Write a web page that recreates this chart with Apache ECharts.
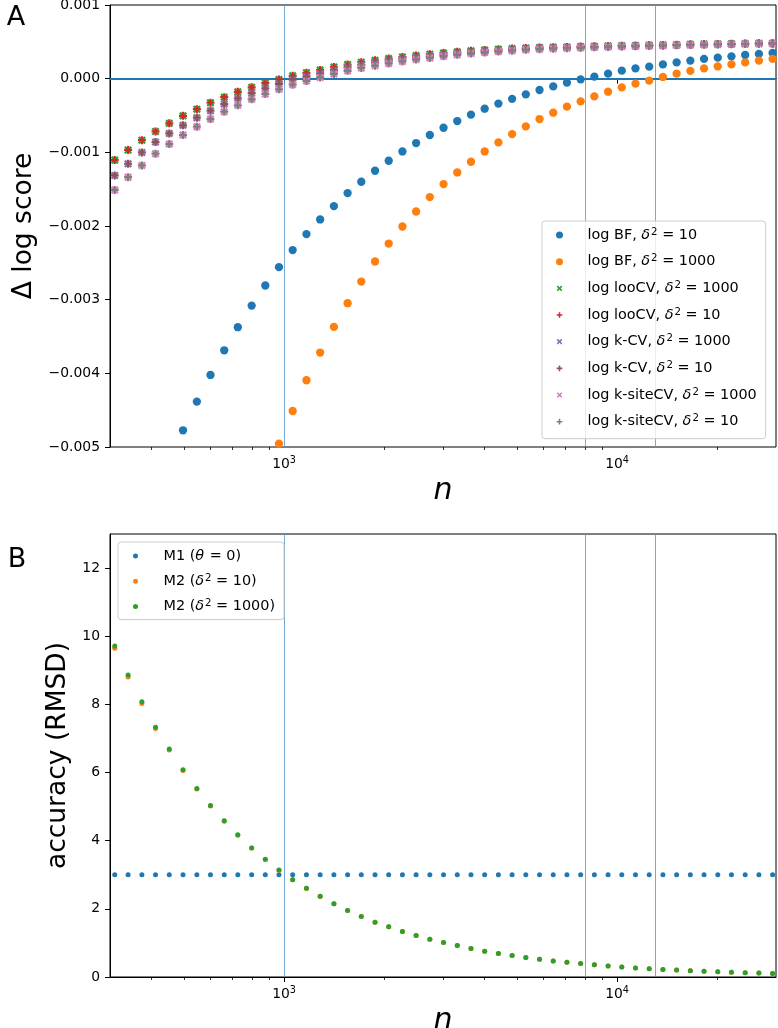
<!DOCTYPE html>
<html><head><meta charset="utf-8">
<script src="https://cdn.jsdelivr.net/npm/echarts@6/dist/echarts.min.js"></script>
<style>html,body{margin:0;padding:0;background:#fff}#c{width:778px;height:1028px}</style>
</head><body><div id="c"></div>
<script>
const F = 'DejaVu Sans';

// sample sizes (x values, shared by both panels)
const nValues = [310, 340, 374, 411, 452, 497, 547, 601, 661, 726, 799, 878, 965, 1061, 1167, 1283, 1411, 1551, 1705, 1875,
  2061, 2266, 2491, 2739, 3011, 3311, 3640, 4002, 4400, 4838, 5319, 5848, 6429, 7068, 7771, 8544, 9394, 10328, 11355, 12484,
  13726, 15090, 16591, 18241, 20055, 22049, 24242, 26652, 29303];

const vLines = [1000, 8000, 13000];
const xMajorTicks = [1000, 10000];
const xMinorTicks = [400, 500, 600, 700, 800, 900, 2000, 3000, 4000, 5000, 6000, 7000, 8000, 9000, 20000];
const bottomYTicks = [0, 2, 4, 6, 8, 10, 12];

// Panel A
const bf10 = [null, null, null, null, null, -0.004773, -0.004384, -0.004022, -0.003687, -0.003374, -0.003080, -0.002808, -0.002559,
  -0.002327, -0.002110, -0.001911, -0.001730, -0.001553, -0.001399, -0.001250, -0.001114, -0.000988, -0.000874, -0.000765,
  -0.000666, -0.000575, -0.000489, -0.000408, -0.000338, -0.000274, -0.000213, -0.000154, -0.000105, -0.000054, -0.000009,
  0.000027, 0.000068, 0.000109, 0.000140, 0.000163, 0.000194, 0.000221, 0.000245, 0.000268, 0.000285, 0.000303, 0.000322,
  0.000336, 0.000349];
const bf1000 = [null, null, null, null, null, null, null, null, null, null, null, null, -0.004955, -0.004511, -0.004094,
  -0.003718, -0.003370, -0.003048, -0.002754, -0.002482, -0.002238, -0.002007, -0.001803, -0.001608, -0.001431, -0.001273,
  -0.001128, -0.000988, -0.000865, -0.000752, -0.000648, -0.000548, -0.000462, -0.000380, -0.000308, -0.000240, -0.000177,
  -0.000118, -0.000068, -0.000027, 0.000023, 0.000068, 0.000105, 0.000140, 0.000167, 0.000194, 0.000221, 0.000245, 0.000268];
const looCV1000 = [-0.001105, -0.000968, -0.000835, -0.000716, -0.000606, -0.000505, -0.000414, -0.000326, -0.000251, -0.000179,
  -0.000118, -0.000061, -0.000011, 0.000039, 0.000080, 0.000116, 0.000157, 0.000192, 0.000223, 0.000249, 0.000273, 0.000294,
  0.000314, 0.000332, 0.000350, 0.000365, 0.000378, 0.000388, 0.000399, 0.000408, 0.000416, 0.000423, 0.000427, 0.000431,
  0.000435, 0.000440, 0.000444, 0.000448, 0.000451, 0.000455, 0.000458, 0.000462, 0.000466, 0.000469, 0.000471, 0.000474,
  0.000477, 0.000480, 0.000482];
const looCV10 = [-0.001105, -0.000968, -0.000835, -0.000716, -0.000606, -0.000505, -0.000414, -0.000326, -0.000251, -0.000179,
  -0.000118, -0.000061, -0.000011, 0.000039, 0.000080, 0.000116, 0.000157, 0.000192, 0.000223, 0.000249, 0.000273, 0.000294,
  0.000314, 0.000332, 0.000350, 0.000365, 0.000378, 0.000388, 0.000399, 0.000408, 0.000416, 0.000423, 0.000427, 0.000431,
  0.000435, 0.000440, 0.000444, 0.000448, 0.000451, 0.000455, 0.000458, 0.000462, 0.000466, 0.000469, 0.000471, 0.000474,
  0.000477, 0.000480, 0.000482];
const kCV1000 = [-0.001313, -0.001155, -0.001001, -0.000861, -0.000743, -0.000634, -0.000530, -0.000435, -0.000344, -0.000267,
  -0.000195, -0.000131, -0.000072, -0.000014, 0.000025, 0.000066, 0.000111, 0.000150, 0.000184, 0.000213, 0.000240, 0.000264,
  0.000287, 0.000307, 0.000327, 0.000344, 0.000359, 0.000371, 0.000384, 0.000394, 0.000404, 0.000412, 0.000417, 0.000422,
  0.000427, 0.000432, 0.000437, 0.000441, 0.000445, 0.000449, 0.000453, 0.000457, 0.000461, 0.000464, 0.000467, 0.000470,
  0.000473, 0.000476, 0.000478];
const kCV10 = [-0.001313, -0.001155, -0.001001, -0.000861, -0.000743, -0.000634, -0.000530, -0.000435, -0.000344, -0.000267,
  -0.000195, -0.000131, -0.000072, -0.000014, 0.000025, 0.000066, 0.000111, 0.000150, 0.000184, 0.000213, 0.000240, 0.000264,
  0.000287, 0.000307, 0.000327, 0.000344, 0.000359, 0.000371, 0.000384, 0.000394, 0.000404, 0.000412, 0.000417, 0.000422,
  0.000427, 0.000432, 0.000437, 0.000441, 0.000445, 0.000449, 0.000453, 0.000457, 0.000461, 0.000464, 0.000467, 0.000470,
  0.000473, 0.000476, 0.000478];
const kSiteCV1000 = [-0.001510, -0.001338, -0.001178, -0.001019, -0.000888, -0.000765, -0.000652, -0.000548, -0.000448, -0.000362,
  -0.000281, -0.000208, -0.000145, -0.000082, -0.000030, 0.000016, 0.000065, 0.000107, 0.000145, 0.000177, 0.000207, 0.000234,
  0.000259, 0.000282, 0.000304, 0.000323, 0.000340, 0.000354, 0.000368, 0.000380, 0.000391, 0.000401, 0.000407, 0.000413,
  0.000419, 0.000425, 0.000430, 0.000435, 0.000439, 0.000444, 0.000448, 0.000452, 0.000457, 0.000460, 0.000463, 0.000466,
  0.000470, 0.000473, 0.000475];
const kSiteCV10 = [-0.001510, -0.001338, -0.001178, -0.001019, -0.000888, -0.000765, -0.000652, -0.000548, -0.000448, -0.000362,
  -0.000281, -0.000208, -0.000145, -0.000082, -0.000030, 0.000016, 0.000065, 0.000107, 0.000145, 0.000177, 0.000207, 0.000234,
  0.000259, 0.000282, 0.000304, 0.000323, 0.000340, 0.000354, 0.000368, 0.000380, 0.000391, 0.000401, 0.000407, 0.000413,
  0.000419, 0.000425, 0.000430, 0.000435, 0.000439, 0.000444, 0.000448, 0.000452, 0.000457, 0.000460, 0.000463, 0.000466,
  0.000470, 0.000473, 0.000475];

// Panel B
const m1 = [3, 3, 3, 3, 3, 3, 3, 3, 3, 3, 3, 3, 3, 3, 3, 3, 3, 3, 3, 3, 3, 3, 3, 3, 3, 3, 3, 3, 3, 3, 3, 3, 3, 3, 3, 3, 3, 3, 3, 3,
  3, 3, 3, 3, 3, 3, 3, 3, 3];
const m2d10 = [9.647, 8.802, 8.028, 7.292, 6.664, 6.062, 5.516, 5.020, 4.572, 4.162, 3.782, 3.449, 3.136, 2.852, 2.599, 2.363,
  2.147, 1.952, 1.778, 1.610, 1.472, 1.338, 1.218, 1.110, 1.012, 0.924, 0.836, 0.757, 0.689, 0.630, 0.571, 0.521, 0.471, 0.433,
  0.394, 0.356, 0.324, 0.294, 0.267, 0.245, 0.222, 0.202, 0.183, 0.167, 0.152, 0.139, 0.127, 0.116, 0.106];
const m2d1000 = [9.714, 8.861, 8.078, 7.330, 6.694, 6.085, 5.534, 5.034, 4.583, 4.171, 3.789, 3.455, 3.141, 2.856, 2.602, 2.366,
  2.149, 1.954, 1.778, 1.610, 1.472, 1.338, 1.218, 1.110, 1.012, 0.924, 0.836, 0.757, 0.689, 0.630, 0.571, 0.521, 0.471, 0.433,
  0.394, 0.356, 0.324, 0.294, 0.267, 0.245, 0.222, 0.202, 0.183, 0.167, 0.152, 0.139, 0.127, 0.116, 0.106];

const C = ['#1f77b4', '#ff7f0e', '#2ca02c', '#d62728', '#9467bd', '#8c564b', '#e377c2', '#7f7f7f'];
const X_SHAPE = 'M0,0.2L0.2,0L0.5,0.3L0.8,0L1,0.2L0.7,0.5L1,0.8L0.8,1L0.5,0.7L0.2,1L0,0.8L0.3,0.5Z';
const PLUS_SHAPE = 'M0.36,0L0.64,0L0.64,0.36L1,0.36L1,0.64L0.64,0.64L0.64,1L0.36,1L0.36,0.64L0,0.64L0,0.36L0.36,0.36Z';
const X_PATH = 'path://' + X_SHAPE;
const PLUS_PATH = 'path://' + PLUS_SHAPE;
const X_ICON = 'path://M-0.12,-0.12M1.12,1.12' + X_SHAPE;
const PLUS_ICON = 'path://M-0.12,-0.12M1.12,1.12' + PLUS_SHAPE;

function pairs(arr) {
  const out = [];
  for (let i = 0; i < nValues.length; i++) if (arr[i] !== null) out.push([nValues[i], arr[i]]);
  return out;
}

const topNames = [
  ['log BF, d10', 'log BF, {i|δ}{s|2} = 10'],
  ['log BF, d1000', 'log BF, {i|δ}{s|2} = 1000'],
  ['log looCV, d1000', 'log looCV, {i|δ}{s|2} = 1000'],
  ['log looCV, d10', 'log looCV, {i|δ}{s|2} = 10'],
  ['log k-CV, d1000', 'log k-CV, {i|δ}{s|2} = 1000'],
  ['log k-CV, d10', 'log k-CV, {i|δ}{s|2} = 10'],
  ['log k-siteCV, d1000', 'log k-siteCV, {i|δ}{s|2} = 1000'],
  ['log k-siteCV, d10', 'log k-siteCV, {i|δ}{s|2} = 10']
];
const botNames = [
  ['M1 theta0', 'M1 ({i|θ} = 0)'],
  ['M2 d10', 'M2 ({i|δ}{s|2} = 10)'],
  ['M2 d1000', 'M2 ({i|δ}{s|2} = 1000)']
];
const richMap = {};
topNames.concat(botNames).forEach(p => richMap[p[0]] = p[1]);

const LF = 14.4;
const legendRich = {
  i: {fontFamily: F, fontStyle: 'italic', fontSize: LF, lineHeight: 16, color: '#000', padding: [0, 1, 0, 0]},
  s: {fontFamily: F, fontSize: 10.2, lineHeight: 11, verticalAlign: 'top', color: '#000'}
};
const tickRich = {
  b: {fontFamily: F, fontSize: 13.9, lineHeight: 18, color: '#000'},
  s: {fontFamily: F, fontSize: 9.7, lineHeight: 11, verticalAlign: 'top', color: '#000'}
};

function xMain(grid) {
  return {
    type: 'log', logBase: 10, gridIndex: grid, min: 300, max: 30000, position: 'bottom',
    name: 'n', nameLocation: 'middle', nameGap: 29,
    nameTextStyle: {fontFamily: F, fontStyle: 'italic', fontSize: 30, color: '#000'},
    axisLine: {show: true, lineStyle: {color: '#000', width: 1}},
    axisTick: {show: true, length: 5, customValues: xMajorTicks, lineStyle: {color: '#000', width: 1}},
    axisLabel: {
      show: true, margin: 8, customValues: xMajorTicks,
      formatter: v => '{b|10}{s|' + Math.round(Math.log10(v)) + '}',
      rich: tickRich
    },
    splitLine: {show: false}, minorTick: {show: false}, minorSplitLine: {show: false}
  };
}
function xMinor(grid) {
  return {
    type: 'log', logBase: 10, gridIndex: grid, min: 300, max: 30000, position: 'bottom',
    axisLine: {show: false},
    axisTick: {show: true, length: 3, customValues: xMinorTicks, lineStyle: {color: '#000', width: 0.8}},
    axisLabel: {show: false},
    splitLine: {show: false}
  };
}

const vLineMark = (withZero) => ({
  silent: true, symbol: 'none', z: 1, animation: false,
  label: {show: false},
  data: vLines.map(v => ({xAxis: v, lineStyle: {color: '#5f9ccb', width: 1, type: 'solid', opacity: 0.85}}))
    .concat(withZero ? [{yAxis: 0, lineStyle: {color: '#1f77b4', width: 2.1, type: 'solid'}}] : [])
});

function sc(name, arr, color, symbol, size, xi, yi) {
  return {
    type: 'scatter', name: name, data: pairs(arr), xAxisIndex: xi, yAxisIndex: yi,
    symbol: symbol, symbolSize: size, itemStyle: {color: color, opacity: 1},
    emphasis: {disabled: true}, z: 3
  };
}

const legendBox = {
  orient: 'vertical', backgroundColor: 'rgba(255,255,255,0.8)', borderColor: '#cccccc', borderWidth: 1, borderRadius: 3,
  itemWidth: 20, selectedMode: false,
  textStyle: {fontFamily: F, fontSize: LF, color: '#000', lineHeight: 16, padding: [0, 0, 0, 13], rich: legendRich},
  formatter: n => richMap[n]
};

const chart = echarts.init(document.getElementById('c'), null, {renderer: 'canvas'});
chart.setOption({
  animation: false,
  backgroundColor: '#fff',
  textStyle: {fontFamily: F},
  grid: [
    {left: 110, top: 5, width: 666, height: 442, show: true, borderColor: '#000', borderWidth: 1, backgroundColor: 'transparent', containLabel: false, outerBoundsMode: 'none'},
    {left: 110, top: 534, width: 666, height: 443, show: true, borderColor: '#000', borderWidth: 1, backgroundColor: 'transparent', containLabel: false, outerBoundsMode: 'none'}
  ],
  xAxis: [xMain(0), xMinor(0), xMain(1), xMinor(1)],
  yAxis: [
    {
      type: 'value', gridIndex: 0, min: -0.005, max: 0.001, interval: 0.001,
      name: 'Δ log score', nameLocation: 'middle', nameGap: 71,
      nameTextStyle: {fontFamily: F, fontSize: 26.5, color: '#000'},
      axisLine: {show: true, lineStyle: {color: '#000', width: 1}},
      axisTick: {show: true, length: 5, lineStyle: {color: '#000', width: 1}},
      axisLabel: {
        margin: 10, fontFamily: F, fontSize: 13.9, color: '#000',
        formatter: v => Math.abs(v) < 1e-12 ? '0.000' : (v < 0 ? '\u2212' : '') + Math.abs(v).toFixed(3)
      },
      splitLine: {show: false}
    },
    {
      type: 'value', gridIndex: 1, min: 0, max: 13, interval: 2,
      name: 'accuracy (RMSD)', nameLocation: 'middle', nameGap: 31,
      nameTextStyle: {fontFamily: F, fontSize: 26.5, color: '#000'},
      axisLine: {show: true, lineStyle: {color: '#000', width: 1}},
      axisTick: {show: true, length: 5, customValues: bottomYTicks, lineStyle: {color: '#000', width: 1}},
      axisLabel: {margin: 10, fontFamily: F, fontSize: 13.9, color: '#000', customValues: bottomYTicks, formatter: v => String(v)},
      splitLine: {show: false}
    }
  ],
  legend: [
    Object.assign({}, legendBox, {
      left: 542, top: 221, itemGap: 10.67, itemHeight: 7, padding: [6, 9, 9, 14],
      data: [
        {name: topNames[0][0], icon: 'circle'},
        {name: topNames[1][0], icon: 'circle'},
        {name: topNames[2][0], icon: X_ICON},
        {name: topNames[3][0], icon: PLUS_ICON},
        {name: topNames[4][0], icon: X_ICON},
        {name: topNames[5][0], icon: PLUS_ICON},
        {name: topNames[6][0], icon: X_ICON},
        {name: topNames[7][0], icon: PLUS_ICON}
      ]
    }),
    Object.assign({}, legendBox, {
      left: 118, top: 542, itemGap: 9.3, itemHeight: 5, padding: [6, 9, 5, 15],
      data: [
        {name: botNames[0][0], icon: 'circle'},
        {name: botNames[1][0], icon: 'circle'},
        {name: botNames[2][0], icon: 'circle'}
      ]
    })
  ],
  graphic: [
    {type: 'text', x: 16, y: 18, style: {text: 'A', font: '27px "DejaVu Sans"', fill: '#000', textAlign: 'center', textVerticalAlign: 'middle'}},
    {type: 'text', x: 17, y: 560, style: {text: 'B', font: '27px "DejaVu Sans"', fill: '#000', textAlign: 'center', textVerticalAlign: 'middle'}}
  ],
  series: [
    {type: 'scatter', name: '_lines0', data: [], xAxisIndex: 0, yAxisIndex: 0, z: 1, markLine: vLineMark(true)},
    {type: 'scatter', name: '_lines1', data: [], xAxisIndex: 2, yAxisIndex: 1, z: 1, markLine: vLineMark(false)},
    sc(topNames[0][0], bf10, C[0], 'circle', 8.3, 0, 0),
    sc(topNames[1][0], bf1000, C[1], 'circle', 8.3, 0, 0),
    sc(topNames[2][0], looCV1000, C[2], X_PATH, 8, 0, 0),
    sc(topNames[3][0], looCV10, C[3], PLUS_PATH, 8, 0, 0),
    sc(topNames[4][0], kCV1000, C[4], X_PATH, 8, 0, 0),
    sc(topNames[5][0], kCV10, C[5], PLUS_PATH, 8, 0, 0),
    sc(topNames[6][0], kSiteCV1000, C[6], X_PATH, 8, 0, 0),
    sc(topNames[7][0], kSiteCV10, C[7], PLUS_PATH, 8, 0, 0),
    sc(botNames[0][0], m1, C[0], 'circle', 5, 2, 1),
    sc(botNames[1][0], m2d10, C[1], 'circle', 5, 2, 1),
    sc(botNames[2][0], m2d1000, C[2], 'circle', 5, 2, 1)
  ]
});
</script></body></html>
